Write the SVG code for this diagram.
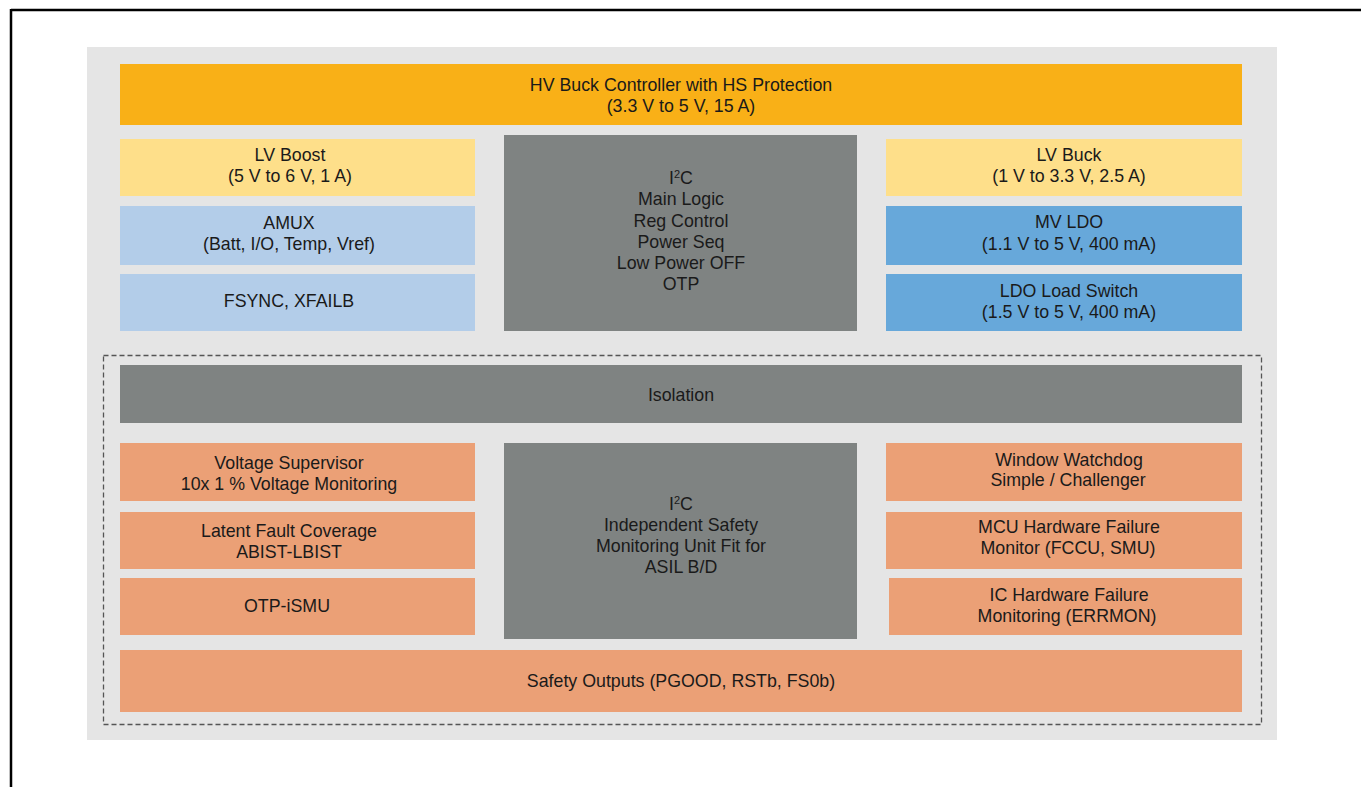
<svg xmlns="http://www.w3.org/2000/svg" width="1361" height="787" viewBox="0 0 1361 787">
<style>
text{font-family:"Liberation Sans",Arial,sans-serif;font-size:17.8px;fill:#1a1a1a;text-anchor:middle}
.org{fill:#f9b017}
.yel{fill:#fedf8a}
.lb{fill:#b3cde9}
.mb{fill:#67a8da}
.gr{fill:#7f8382}
.sal{fill:#eba076}
</style>
<rect x="0" y="0" width="1361" height="787" fill="#fff"/>
<g id="frame">
<line x1="11" y1="10" x2="1361" y2="10" stroke="#000" stroke-width="2.5"/>
<line x1="11" y1="9" x2="11" y2="787" stroke="#000" stroke-width="2.5"/>
</g>
<rect id="background" x="87" y="47" width="1190" height="693" fill="#e5e5e5"/>
<g id="connectors"></g>
<rect id="safety-zone" x="103.5" y="355.5" width="1158" height="369" fill="none" stroke="#555" stroke-width="1.3" stroke-dasharray="5,3"/>
<g id="hv-buck"><rect class="org" x="120" y="64" width="1122" height="61"/><text x="681" y="91">HV Buck Controller with HS Protection</text><text x="681" y="112">(3.3 V to 5 V, 15 A)</text></g>
<g id="lv-boost"><rect class="yel" x="120" y="139" width="355" height="57"/><text x="290" y="161">LV Boost</text><text x="290" y="182">(5 V to 6 V, 1 A)</text></g>
<g id="amux"><rect class="lb" x="120" y="206" width="355" height="59"/><text x="289" y="229">AMUX</text><text x="289" y="250">(Batt, I/O, Temp, Vref)</text></g>
<g id="fsync"><rect class="lb" x="120" y="274" width="355" height="57"/><text x="289" y="307">FSYNC, XFAILB</text></g>
<g id="main-logic"><rect class="gr" x="504" y="135" width="353" height="196"/>
<text x="681" y="184">I<tspan font-size="11" dy="-6">2</tspan><tspan dy="6">C</tspan></text>
<text x="681" y="205">Main Logic</text><text x="681" y="227">Reg Control</text><text x="681" y="248">Power Seq</text><text x="681" y="269">Low Power OFF</text><text x="681" y="290">OTP</text></g>
<g id="lv-buck"><rect class="yel" x="886" y="139" width="356" height="57"/><text x="1069" y="161">LV Buck</text><text x="1069" y="182">(1 V to 3.3 V, 2.5 A)</text></g>
<g id="mv-ldo"><rect class="mb" x="886" y="206" width="356" height="59"/><text x="1069" y="228">MV LDO</text><text x="1069" y="250">(1.1 V to 5 V, 400 mA)</text></g>
<g id="ldo-switch"><rect class="mb" x="886" y="274" width="356" height="57"/><text x="1069" y="297">LDO Load Switch</text><text x="1069" y="318">(1.5 V to 5 V, 400 mA)</text></g>
<g id="isolation"><rect class="gr" x="120" y="365" width="1122" height="58"/><text x="681" y="401">Isolation</text></g>
<g id="voltage-supervisor"><rect class="sal" x="120" y="443" width="355" height="58"/><text x="289" y="469">Voltage Supervisor</text><text x="289" y="490">10x 1 % Voltage Monitoring</text></g>
<g id="latent-fault"><rect class="sal" x="120" y="512" width="355" height="57"/><text x="289" y="537">Latent Fault Coverage</text><text x="289" y="558">ABIST-LBIST</text></g>
<g id="otp-ismu"><rect class="sal" x="120" y="578" width="355" height="57"/><text x="287" y="612">OTP-iSMU</text></g>
<g id="safety-unit"><rect class="gr" x="504" y="443" width="353" height="196"/>
<text x="681" y="510">I<tspan font-size="11" dy="-6">2</tspan><tspan dy="6">C</tspan></text>
<text x="681" y="531">Independent Safety</text><text x="681" y="552">Monitoring Unit Fit for</text><text x="681" y="573">ASIL B/D</text></g>
<g id="watchdog"><rect class="sal" x="886" y="443" width="356" height="58"/><text x="1069" y="466">Window Watchdog</text><text x="1068" y="486">Simple / Challenger</text></g>
<g id="mcu-failure"><rect class="sal" x="886" y="512" width="356" height="57"/><text x="1069" y="533">MCU Hardware Failure</text><text x="1068" y="554">Monitor (FCCU, SMU)</text></g>
<g id="ic-failure"><rect class="sal" x="889" y="578" width="353" height="57"/><text x="1069" y="601">IC Hardware Failure</text><text x="1067" y="622">Monitoring (ERRMON)</text></g>
<g id="safety-outputs"><rect class="sal" x="120" y="650" width="1122" height="62"/><text x="681" y="687">Safety Outputs (PGOOD, RSTb, FS0b)</text></g>
</svg>
